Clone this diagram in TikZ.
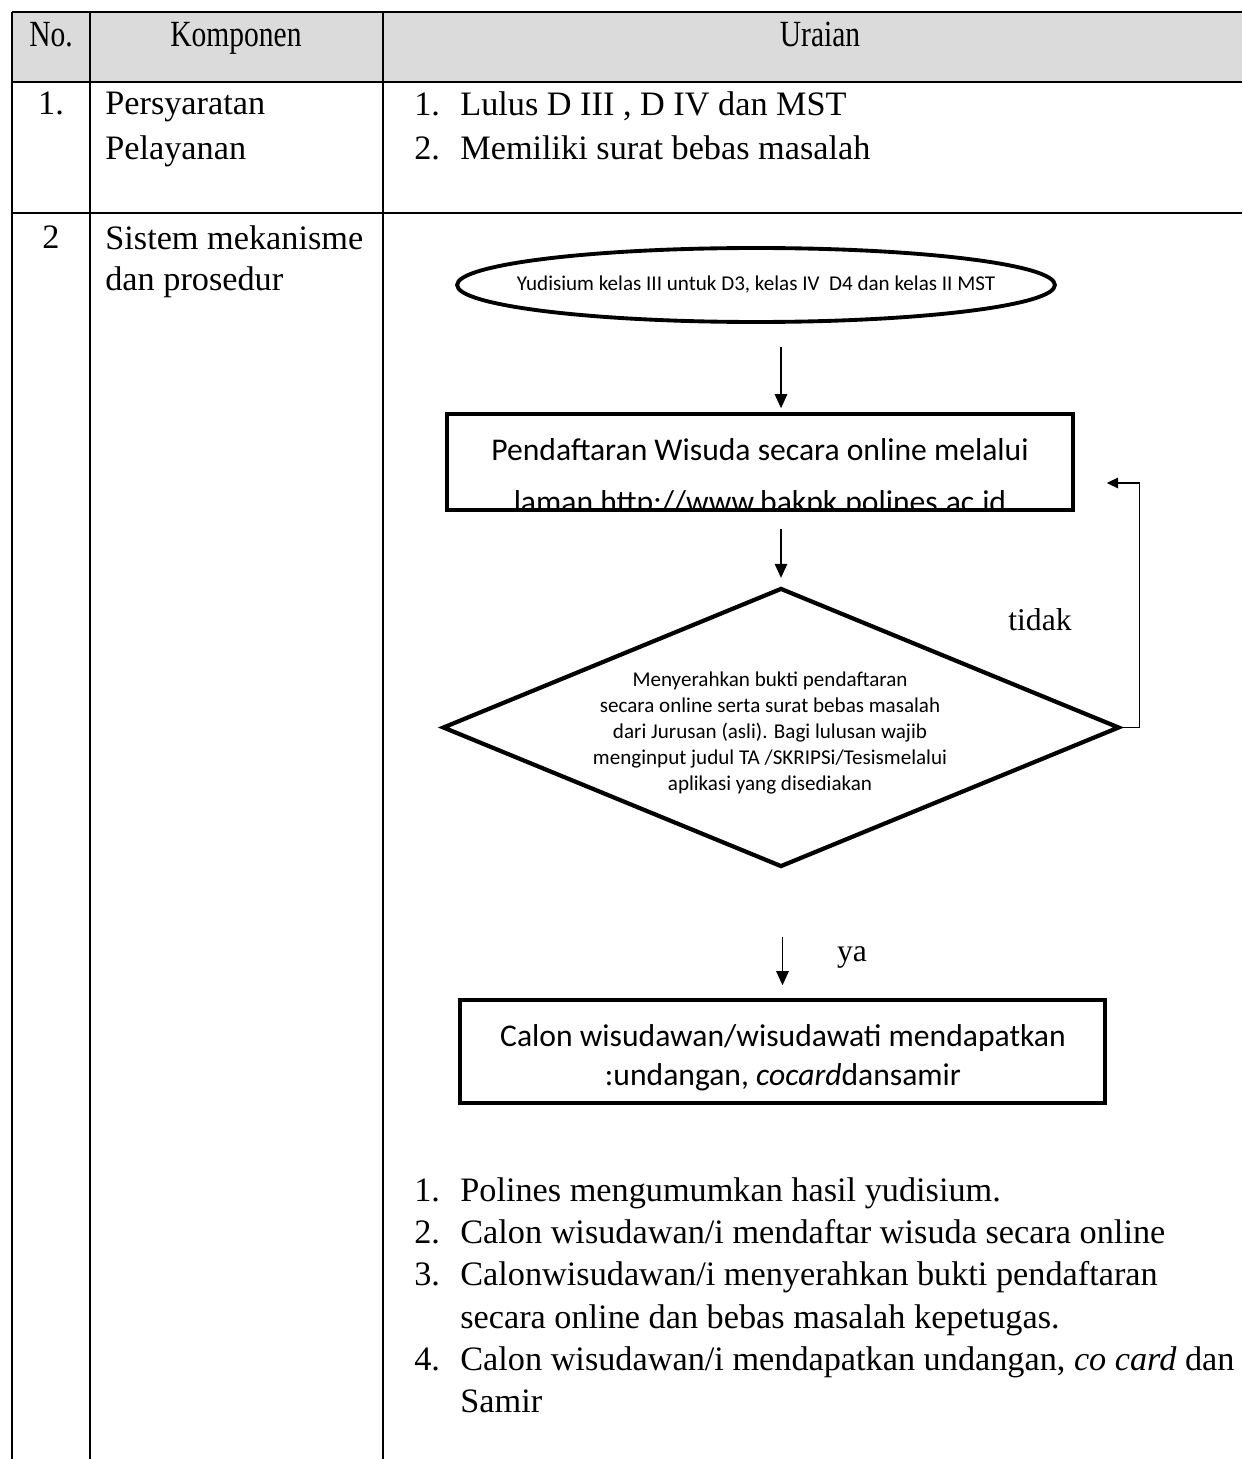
\documentclass[tikz,border=0pt]{standalone}
\usepackage{fontspec}
\setmainfont{Liberation Serif}
\newfontfamily\flowfont{Carlito}
\newfontfamily\headfont[FakeStretch=0.8]{Liberation Serif}
\usetikzlibrary{positioning,arrows.meta,shapes.geometric}

\newcommand{\nr}[1]{\makebox[0.92cm][l]{#1}}

\begin{document}
\begin{tikzpicture}[
    x=0.02cm, y=-0.02cm,
    >={Triangle[length=8pt,width=7pt]},
    rule/.style={line width=0.9pt},
    head/.style={font=\headfont\fontsize{21}{24}\selectfont, inner sep=0pt, anchor=base},
    cell/.style={font=\fontsize{19.5}{24.1}\selectfont, inner sep=0pt, align=left},
    widerow/.style={font=\fontsize{19.5}{25.5}\selectfont},
    tightrow/.style={font=\fontsize{19.5}{23.8}\selectfont},
    startnode/.style={
        draw,
        ellipse,
        line width=2.2pt,
        minimum width=11.96cm,
        minimum height=1.48cm,
        inner sep=0pt
    },
    procbox/.style={
        draw,
        rectangle,
        line width=2pt,
        inner sep=0pt
    },
    check/.style={
        draw,
        diamond,
        aspect=2.43,
        line width=2.4pt,
        minimum width=13.54cm,
        minimum height=5.58cm,
        inner sep=0pt
    },
    smalltext/.style={font=\flowfont\fontsize{12}{14}\selectfont, inner sep=0pt},
    checktext/.style={font=\flowfont\fontsize{12}{14.8}\selectfont, inner sep=0pt, align=center},
    flowtext/.style={font=\flowfont\fontsize{18}{29.5}\selectfont, align=center, inner sep=0pt},
    flow/.style={->, line width=1.1pt},
    answer/.style={font=\fontsize{18}{20}\selectfont, inner sep=0pt}
]
\useasboundingbox (0,0) rectangle (1242,1459);

% --- Table frame ---
\fill[black!14] (12,12) rectangle (1242,82);
\draw[line width=1.6pt] (12,12) -- (1242,12);
\draw[rule] (12,82) -- (1242,82);
\draw[rule] (12,213) -- (1242,213);
\draw[rule] (12,12) -- (12,1459);
\draw[rule] (90,12) -- (90,1459);
\draw[rule] (383,12) -- (383,1459);

% --- Header ---
\node[head] (hno)   at (51,47)  {No.};
\node[head] (hkomp) at (236,47) {Komponen};
\node[head] (hurai) at (820,47) {Uraian};

% --- Row 1 ---
\node[cell, anchor=north] (no1) at (51,92) {1.};
\node[cell, widerow, anchor=north west] (komp1) at (105,92) {Persyaratan\\Pelayanan};
\node[cell, widerow, anchor=north west] (syarat) at (414,91)
    {\nr{1.}Lulus D III , D IV dan MST\\\nr{2.}Memiliki surat bebas masalah};

% --- Row 2 ---
\node[cell, anchor=north] (no2) at (51,225) {2};
\node[cell, tightrow, anchor=north west] (komp2) at (105,225) {Sistem mekanisme\\dan prosedur};

% --- Flowchart ---
\node[startnode] (yudisium) at (756,285) {};
\node[smalltext] (yudisiumtext) at (yudisium.center)
    {Yudisium kelas III untuk D3, kelas IV~ D4 dan kelas II MST};

\begin{scope}
    \clip (447,414) rectangle (1073,508);
    \node[flowtext] (daftartext) at (760,478)
        {Pendaftaran Wisuda secara online melalui\\laman http://www.bakpk.polines.ac.id};
\end{scope}
\node[procbox, minimum width=12.52cm, minimum height=1.92cm] (daftar) at (760,462) {};

\node[check] (berkas) at (781,727.5) {};
\node[checktext] (berkastext) at (770,733)
    {Menyerahkan bukti pendaftaran\\
     secara online serta surat bebas masalah\\
     dari Jurusan (asli). Bagi lulusan wajib\\
     menginput judul TA /SKRIPSi/Tesismelalui\\
     aplikasi yang disediakan};

\node[procbox, minimum width=12.9cm, minimum height=2.06cm] (calon) at (782.5,1051.5) {};
\node[flowtext, font=\flowfont\fontsize{18}{22.2}\selectfont] (calontext) at (783,1058)
    {Calon wisudawan/wisudawati mendapatkan\\:undangan, \textit{cocard}dansamir};

\node[answer] (tidak) at (1040,620) {tidak};
\node[answer] (ya)    at (852,957)  {ya};

% --- Connectors ---
\draw[flow, shorten <=0.46cm, shorten >=0.08cm] (yudisium.south -| berkas.north) -- (daftar.north -| berkas.north);
\draw[flow, shorten <=0.34cm, shorten >=0.16cm] (daftar.south -| berkas.north) -- (berkas.north);
\draw[flow, shorten <=1.36cm, shorten >=0.26cm] (calon.north |- berkas.south) -- (calon.north);
\draw[->, >={Triangle[length=6.5pt,width=6pt]}, line width=0.9pt]
    (berkas.east) -- ++(0.36cm,0) |- ([xshift=0.64cm, yshift=-0.42cm]daftar.east);

% --- Prosedur ---
\node[cell, anchor=north west] (prosedur) at (414,1177)
    {\nr{1.}Polines mengumumkan hasil yudisium.\\
     \nr{2.}Calon wisudawan/i mendaftar wisuda secara online\\
     \nr{3.}Calonwisudawan/i menyerahkan bukti pendaftaran\\
     \nr{}secara online dan bebas masalah kepetugas.\\
     \nr{4.}Calon wisudawan/i mendapatkan undangan, \textit{co card} dan\\
     \nr{}Samir};

\end{tikzpicture}
\end{document}
